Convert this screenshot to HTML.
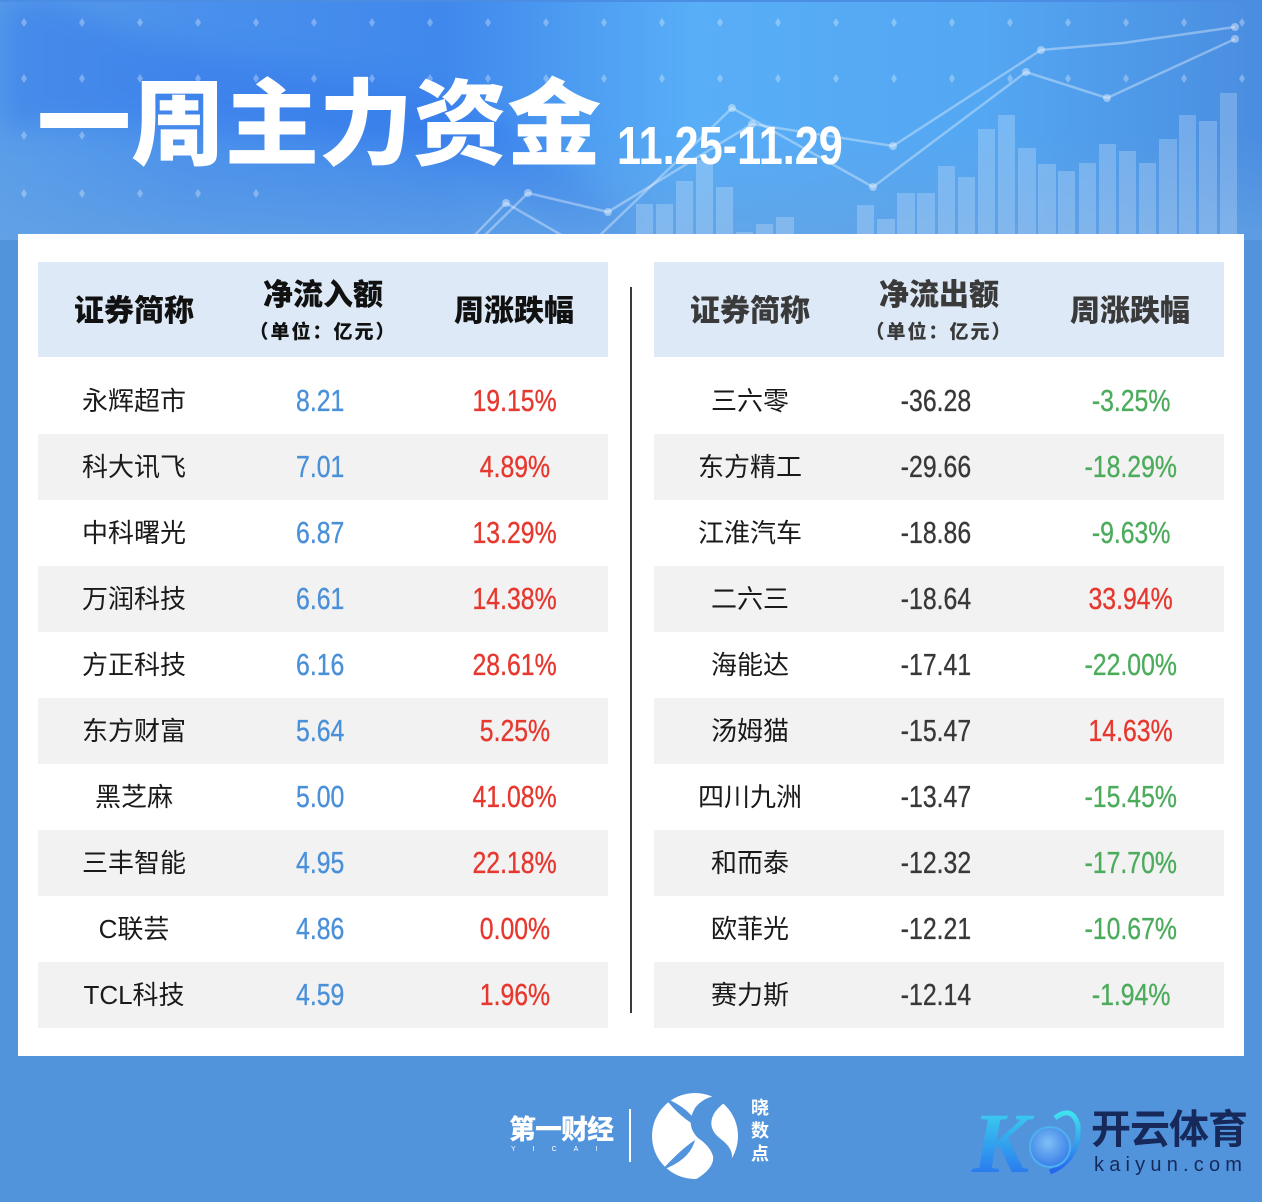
<!DOCTYPE html>
<html><head><meta charset="utf-8">
<style>
*{margin:0;padding:0;box-sizing:border-box}
html,body{width:1262px;height:1202px;overflow:hidden;background:#5294dc}
body{position:relative;font-family:"Liberation Sans","Noto Sans CJK SC",sans-serif}
.abs{position:absolute}
#panel{position:absolute;left:18px;top:234px;width:1226px;height:822px;background:#fff}
.t{position:absolute;top:262px;width:570px;height:766px}
.hd{position:absolute;left:0;top:0;width:570px;height:95px;background:#dde9f6}
.row{position:absolute;left:0;width:570px;height:66px}
.row.g{background:#f2f2f2}
.c{position:absolute;top:0;height:66px;line-height:66px;text-align:center;width:200px;white-space:nowrap}
.c1{left:-4px}.c2{left:182px}.c3{left:377px}
.name{font-size:26px;color:#1a1a1a}
.num span{display:inline-block;font-size:31px;transform:scaleX(0.8);-webkit-text-stroke:0.35px currentColor}
.blue{color:#4a90d9}.red{color:#e6382f}.green{color:#4cac5c}.dark{color:#383838}
.h{position:absolute;text-align:center;width:220px;white-space:nowrap;font-weight:900}
.hm{font-size:30px;height:40px;line-height:40px}
.hs{font-size:19px;height:24px;line-height:24px;letter-spacing:2px}
</style></head><body>

<svg class="abs" style="left:0;top:0" width="1262" height="240" viewBox="0 0 1262 240">
<defs>
<linearGradient id="bg" x1="0" y1="0" x2="1" y2="0">
<stop offset="0" stop-color="#5a9ee9"/>
<stop offset="0.15" stop-color="#4a90ec"/>
<stop offset="0.35" stop-color="#4088ec"/>
<stop offset="0.55" stop-color="#58aef7"/>
<stop offset="0.78" stop-color="#54a7f2"/>
<stop offset="1" stop-color="#4a8de0"/>
</linearGradient>
<linearGradient id="fade" x1="0" y1="0" x2="0" y2="1">
<stop offset="0" stop-color="#5f9fe4" stop-opacity="0"/>
<stop offset="0.55" stop-color="#5f9fe4" stop-opacity="0"/>
<stop offset="1" stop-color="#64a2e4" stop-opacity="0.75"/>
</linearGradient>
<filter id="blur"><feGaussianBlur stdDeviation="14"/></filter>
</defs>
<rect width="1262" height="240" fill="url(#bg)"/>
<path d="M60 0 C150 60 300 60 420 90 C520 115 580 170 640 240 L560 240 C500 180 430 150 330 140 C200 125 90 120 0 130 L0 0 Z" fill="#3176ea" opacity="0.45" filter="url(#blur)"/>
<rect width="1262" height="240" fill="url(#fade)"/>
<rect width="1262" height="2" fill="#4a8de2"/>
<g fill="#ffffff" fill-opacity="0.22">
<rect x="636" y="204" width="17" height="40"/>
<rect x="656" y="204" width="17" height="40"/>
<rect x="676" y="181" width="17" height="60"/>
<rect x="696" y="160" width="17" height="80"/>
<rect x="716" y="187" width="17" height="60"/>
<rect x="736" y="232" width="17" height="10"/>
<rect x="756" y="224" width="17" height="20"/>
<rect x="776" y="217" width="18" height="25"/>
<rect x="857" y="205" width="17" height="40"/>
<rect x="877" y="219" width="18" height="25"/>
<rect x="897" y="193" width="18" height="50"/>
<rect x="917" y="193" width="18" height="50"/>
<rect x="938" y="166" width="17" height="80"/>
<rect x="958" y="177" width="17" height="70"/>
<rect x="978" y="129" width="17" height="115"/>
<rect x="998" y="115" width="17" height="130"/>
<rect x="1018" y="148" width="18" height="95"/>
<rect x="1038" y="164" width="18" height="80"/>
<rect x="1058" y="171" width="17" height="70"/>
<rect x="1079" y="163" width="17" height="80"/>
<rect x="1099" y="144" width="17" height="100"/>
<rect x="1119" y="151" width="17" height="90"/>
<rect x="1139" y="163" width="17" height="80"/>
<rect x="1159" y="139" width="18" height="105"/>
<rect x="1179" y="115" width="17" height="130"/>
<rect x="1199" y="121" width="18" height="120"/>
<rect x="1220" y="93" width="17" height="150"/>
</g>
<g stroke="#ffffff" stroke-opacity="0.35" stroke-width="2.5" fill="none">
<polyline points="480,240 528,193 608,212 752,124 893,146 1041,50 1123,43 1235,27"/>
<polyline points="595,240 732,108 873,187 1026,72 1107,98 1235,39"/>
<polyline points="470,240 506,203 570,240"/>
</g>
<g fill="#ffffff" fill-opacity="0.4">
<circle cx="528" cy="193" r="4"/><circle cx="608" cy="212" r="4"/><circle cx="752" cy="124" r="4"/>
<circle cx="893" cy="146" r="4"/><circle cx="1041" cy="50" r="4"/><circle cx="1235" cy="27" r="4"/>
<circle cx="732" cy="108" r="4"/><circle cx="873" cy="187" r="4"/><circle cx="1026" cy="72" r="4"/>
<circle cx="1107" cy="98" r="4"/><circle cx="1235" cy="39" r="4"/><circle cx="506" cy="203" r="4"/>
</g>
<g fill="#ffffff" fill-opacity="0.3">
<path d="M24 18l3 4.5-3 4.5-3-4.5z M82 18l3 4.5-3 4.5-3-4.5z M140 18l3 4.5-3 4.5-3-4.5z M198 18l3 4.5-3 4.5-3-4.5z M256 18l3 4.5-3 4.5-3-4.5z M314 18l3 4.5-3 4.5-3-4.5z M372 18l3 4.5-3 4.5-3-4.5z M430 18l3 4.5-3 4.5-3-4.5z M488 18l3 4.5-3 4.5-3-4.5z M546 18l3 4.5-3 4.5-3-4.5z M604 18l3 4.5-3 4.5-3-4.5z M662 18l3 4.5-3 4.5-3-4.5z M720 18l3 4.5-3 4.5-3-4.5z M778 18l3 4.5-3 4.5-3-4.5z M836 18l3 4.5-3 4.5-3-4.5z M894 18l3 4.5-3 4.5-3-4.5z M952 18l3 4.5-3 4.5-3-4.5z M1010 18l3 4.5-3 4.5-3-4.5z M1068 18l3 4.5-3 4.5-3-4.5z M1126 18l3 4.5-3 4.5-3-4.5z M1184 18l3 4.5-3 4.5-3-4.5z M1242 18l3 4.5-3 4.5-3-4.5z"/>
<path d="M24 74l3 4.5-3 4.5-3-4.5z M82 74l3 4.5-3 4.5-3-4.5z M140 74l3 4.5-3 4.5-3-4.5z M198 74l3 4.5-3 4.5-3-4.5z M256 74l3 4.5-3 4.5-3-4.5z M314 74l3 4.5-3 4.5-3-4.5z M372 74l3 4.5-3 4.5-3-4.5z M430 74l3 4.5-3 4.5-3-4.5z M488 74l3 4.5-3 4.5-3-4.5z M546 74l3 4.5-3 4.5-3-4.5z M604 74l3 4.5-3 4.5-3-4.5z M662 74l3 4.5-3 4.5-3-4.5z M720 74l3 4.5-3 4.5-3-4.5z M778 74l3 4.5-3 4.5-3-4.5z M836 74l3 4.5-3 4.5-3-4.5z M894 74l3 4.5-3 4.5-3-4.5z M952 74l3 4.5-3 4.5-3-4.5z M1010 74l3 4.5-3 4.5-3-4.5z M1068 74l3 4.5-3 4.5-3-4.5z M1126 74l3 4.5-3 4.5-3-4.5z M1184 74l3 4.5-3 4.5-3-4.5z M1242 74l3 4.5-3 4.5-3-4.5z"/>
<path d="M24 131l3 4.5-3 4.5-3-4.5z M82 131l3 4.5-3 4.5-3-4.5z M24 189l3 4.5-3 4.5-3-4.5z M82 189l3 4.5-3 4.5-3-4.5z M140 189l3 4.5-3 4.5-3-4.5z M198 189l3 4.5-3 4.5-3-4.5z M256 189l3 4.5-3 4.5-3-4.5z"/>
</g>
</svg>

<div class="abs" style="left:37px;top:78px;font-size:94px;line-height:94px;font-weight:900;color:#fff;white-space:nowrap">一周主力资金</div>
<div class="abs" style="left:617px;top:119px;font-size:54px;line-height:54px;font-weight:bold;color:#fff;white-space:nowrap;transform:scaleX(0.8);transform-origin:0 0">11.25-11.29</div>

<div id="panel"></div>
<div class="abs" style="left:630px;top:287px;width:2px;height:726px;background:#3a3a3a"></div>

<!-- LEFT TABLE -->
<div class="t" style="left:38px">
<div class="hd"></div>
<div class="h hm" style="left:-14px;top:30px;color:#111">证券简称</div>
<div class="h hm" style="left:175px;top:14px;color:#111">净流入额</div>
<div class="h hs" style="left:175px;top:59px;color:#111">（单位：亿元）</div>
<div class="h hm" style="left:366px;top:30px;color:#111">周涨跌幅</div>

<div class="row" style="top:106px"><div class="c c1 name">永辉超市</div><div class="c c2 num blue"><span>8.21</span></div><div class="c c3 num red"><span>19.15%</span></div></div>
<div class="row g" style="top:172px"><div class="c c1 name">科大讯飞</div><div class="c c2 num blue"><span>7.01</span></div><div class="c c3 num red"><span>4.89%</span></div></div>
<div class="row" style="top:238px"><div class="c c1 name">中科曙光</div><div class="c c2 num blue"><span>6.87</span></div><div class="c c3 num red"><span>13.29%</span></div></div>
<div class="row g" style="top:304px"><div class="c c1 name">万润科技</div><div class="c c2 num blue"><span>6.61</span></div><div class="c c3 num red"><span>14.38%</span></div></div>
<div class="row" style="top:370px"><div class="c c1 name">方正科技</div><div class="c c2 num blue"><span>6.16</span></div><div class="c c3 num red"><span>28.61%</span></div></div>
<div class="row g" style="top:436px"><div class="c c1 name">东方财富</div><div class="c c2 num blue"><span>5.64</span></div><div class="c c3 num red"><span>5.25%</span></div></div>
<div class="row" style="top:502px"><div class="c c1 name">黑芝麻</div><div class="c c2 num blue"><span>5.00</span></div><div class="c c3 num red"><span>41.08%</span></div></div>
<div class="row g" style="top:568px"><div class="c c1 name">三丰智能</div><div class="c c2 num blue"><span>4.95</span></div><div class="c c3 num red"><span>22.18%</span></div></div>
<div class="row" style="top:634px"><div class="c c1 name">C联芸</div><div class="c c2 num blue"><span>4.86</span></div><div class="c c3 num red"><span>0.00%</span></div></div>
<div class="row g" style="top:700px"><div class="c c1 name">TCL科技</div><div class="c c2 num blue"><span>4.59</span></div><div class="c c3 num red"><span>1.96%</span></div></div>
</div>

<!-- RIGHT TABLE -->
<div class="t" style="left:654px">
<div class="hd"></div>
<div class="h hm" style="left:-14px;top:30px;color:#3a3a3a">证券简称</div>
<div class="h hm" style="left:175px;top:14px;color:#3a3a3a">净流出额</div>
<div class="h hs" style="left:175px;top:59px;color:#3a3a3a">（单位：亿元）</div>
<div class="h hm" style="left:366px;top:30px;color:#3a3a3a">周涨跌幅</div>

<div class="row" style="top:106px"><div class="c c1 name">三六零</div><div class="c c2 num dark"><span>-36.28</span></div><div class="c c3 num green"><span>-3.25%</span></div></div>
<div class="row g" style="top:172px"><div class="c c1 name">东方精工</div><div class="c c2 num dark"><span>-29.66</span></div><div class="c c3 num green"><span>-18.29%</span></div></div>
<div class="row" style="top:238px"><div class="c c1 name">江淮汽车</div><div class="c c2 num dark"><span>-18.86</span></div><div class="c c3 num green"><span>-9.63%</span></div></div>
<div class="row g" style="top:304px"><div class="c c1 name">二六三</div><div class="c c2 num dark"><span>-18.64</span></div><div class="c c3 num red"><span>33.94%</span></div></div>
<div class="row" style="top:370px"><div class="c c1 name">海能达</div><div class="c c2 num dark"><span>-17.41</span></div><div class="c c3 num green"><span>-22.00%</span></div></div>
<div class="row g" style="top:436px"><div class="c c1 name">汤姆猫</div><div class="c c2 num dark"><span>-15.47</span></div><div class="c c3 num red"><span>14.63%</span></div></div>
<div class="row" style="top:502px"><div class="c c1 name">四川九洲</div><div class="c c2 num dark"><span>-13.47</span></div><div class="c c3 num green"><span>-15.45%</span></div></div>
<div class="row g" style="top:568px"><div class="c c1 name">和而泰</div><div class="c c2 num dark"><span>-12.32</span></div><div class="c c3 num green"><span>-17.70%</span></div></div>
<div class="row" style="top:634px"><div class="c c1 name">欧菲光</div><div class="c c2 num dark"><span>-12.21</span></div><div class="c c3 num green"><span>-10.67%</span></div></div>
<div class="row g" style="top:700px"><div class="c c1 name">赛力斯</div><div class="c c2 num dark"><span>-12.14</span></div><div class="c c3 num green"><span>-1.94%</span></div></div>
</div>

<!-- FOOTER LOGOS -->
<div class="abs" style="left:509px;top:1113px;font-size:27px;line-height:34px;font-weight:900;color:#fff;white-space:nowrap;letter-spacing:-1px">第一财经</div>
<div class="abs" style="left:511px;top:1146px;font-size:7px;line-height:8px;color:#fff;letter-spacing:17px;white-space:nowrap">YICAI</div>
<div class="abs" style="left:629px;top:1109px;width:2px;height:53px;background:#fff"></div>
<svg class="abs" style="left:640px;top:1080px" width="120" height="110" viewBox="640 1080 120 110">
<circle cx="695" cy="1136" r="43" fill="#fff"/>
<path d="M720 1095 Q740 1088 750 1092 Q725 1098 715 1112 Q705 1128 722 1140 Q742 1156 722 1172 Q712 1180 695 1180 Q715 1168 713 1156 Q710 1146 698 1138 Q685 1125 695 1108 Q703 1097 720 1095Z" fill="#5294dc"/>
<path d="M665 1098 Q690 1108 700 1128 Q680 1118 665 1098Z" fill="#5294dc"/>
<path d="M662 1170 Q680 1150 695 1140 Q690 1160 662 1170Z" fill="#5294dc"/>
</svg>
<div class="abs" style="left:751px;top:1097px;width:20px;font-size:18px;line-height:23px;font-weight:bold;color:#fff">晓<br>数<br>点</div>

<svg class="abs" style="left:970px;top:1095px" width="115" height="90" viewBox="970 1095 115 90">
<defs>
<linearGradient id="kg" x1="0" y1="0" x2="0" y2="1">
<stop offset="0" stop-color="#3fe3ef"/><stop offset="1" stop-color="#2563ee"/>
</linearGradient>
<radialGradient id="ball" cx="0.45" cy="0.4" r="0.6">
<stop offset="0" stop-color="#7fc0f4"/><stop offset="1" stop-color="#3a7fe8"/>
</radialGradient>
</defs>
<text x="972" y="1172" font-family="Liberation Serif, serif" font-style="italic" font-weight="bold" font-size="86" fill="url(#kg)">K</text>
<path d="M1055 1118 Q1072 1105 1078 1125 Q1080 1160 1050 1172" stroke="url(#kg)" stroke-width="5" fill="none"/>
<circle cx="1050" cy="1147" r="20" fill="url(#ball)" stroke="#4fb0f0" stroke-width="2"/>
</svg>
<div class="abs" style="left:1091px;top:1106px;font-size:40px;line-height:48px;font-weight:bold;color:#16295a;white-space:nowrap;letter-spacing:-1px">开云体育</div>
<div class="abs" style="left:1094px;top:1153px;font-size:20px;line-height:24px;color:#16295a;white-space:nowrap;letter-spacing:5.2px">kaiyun.com</div>

</body></html>
